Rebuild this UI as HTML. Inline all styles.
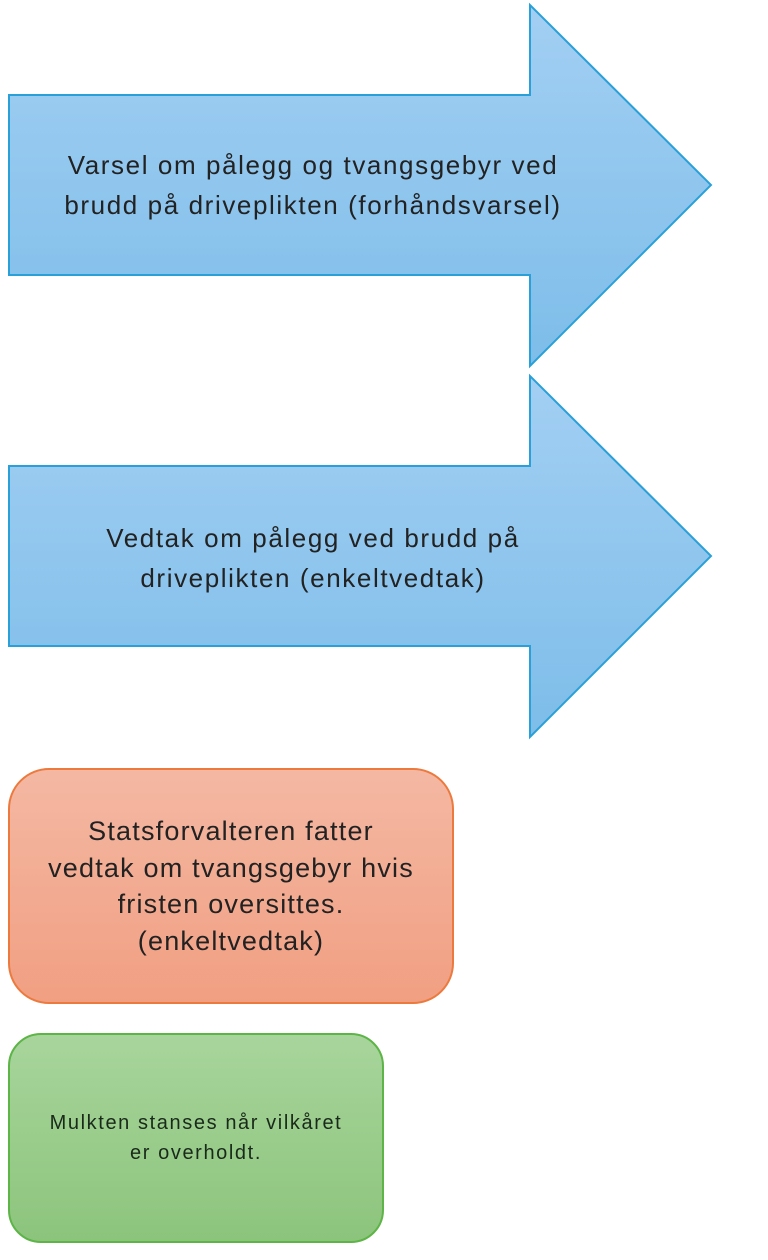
<!DOCTYPE html>
<html><head><style>
html,body{margin:0;padding:0;background:#fff;width:768px;height:1260px;overflow:hidden;font-family:"Liberation Sans",sans-serif;}
.t{position:absolute;text-align:center;color:#222;white-space:nowrap;}
</style></head><body>
<svg width="768" height="1260" style="position:absolute;left:0;top:0">
<defs>
<linearGradient id="b" x1="0" y1="0" x2="0" y2="1"><stop offset="0" stop-color="#a3cff3"/><stop offset="1" stop-color="#7dbde9"/></linearGradient>
<linearGradient id="o" x1="0" y1="0" x2="0" y2="1"><stop offset="0" stop-color="#f4b8a3"/><stop offset="1" stop-color="#f19f82"/></linearGradient>
<linearGradient id="g" x1="0" y1="0" x2="0" y2="1"><stop offset="0" stop-color="#a8d59c"/><stop offset="1" stop-color="#8cc47c"/></linearGradient>
</defs>
<polygon points="9,95 530,95 530,5 711,185 530,366 530,275 9,275" fill="url(#b)" stroke="#2aa0d8" stroke-width="2"/>
<polygon points="9,466 530,466 530,376 711,556 530,737 530,646 9,646" fill="url(#b)" stroke="#2aa0d8" stroke-width="2"/>
<rect x="9" y="769" width="444" height="234" rx="40" fill="url(#o)" stroke="#ec7a3e" stroke-width="2"/>
<rect x="9" y="1034" width="374" height="208" rx="32" fill="url(#g)" stroke="#5db447" stroke-width="2"/>
</svg>
<div class="t" style="left:13px;top:145px;width:600px;font-size:26px;letter-spacing:1.6px;line-height:40px;">Varsel om pålegg og tvangsgebyr ved<br>brudd på driveplikten (forhåndsvarsel)</div>
<div class="t" style="left:13px;top:518px;width:600px;font-size:26px;letter-spacing:1.6px;line-height:40px;">Vedtak om pålegg ved brudd på<br>driveplikten (enkeltvedtak)</div>
<div class="t" style="left:20px;top:813px;width:422px;font-size:27px;letter-spacing:1.2px;line-height:36.5px;">Statsforvalteren fatter<br>vedtak om tvangsgebyr hvis<br>fristen oversittes.<br>(enkeltvedtak)</div>
<div class="t" style="left:20px;top:1108px;width:352px;font-size:20px;letter-spacing:1.6px;line-height:30px;color:#1a2a1a;">Mulkten stanses når vilkåret<br>er overholdt.</div>
</body></html>
